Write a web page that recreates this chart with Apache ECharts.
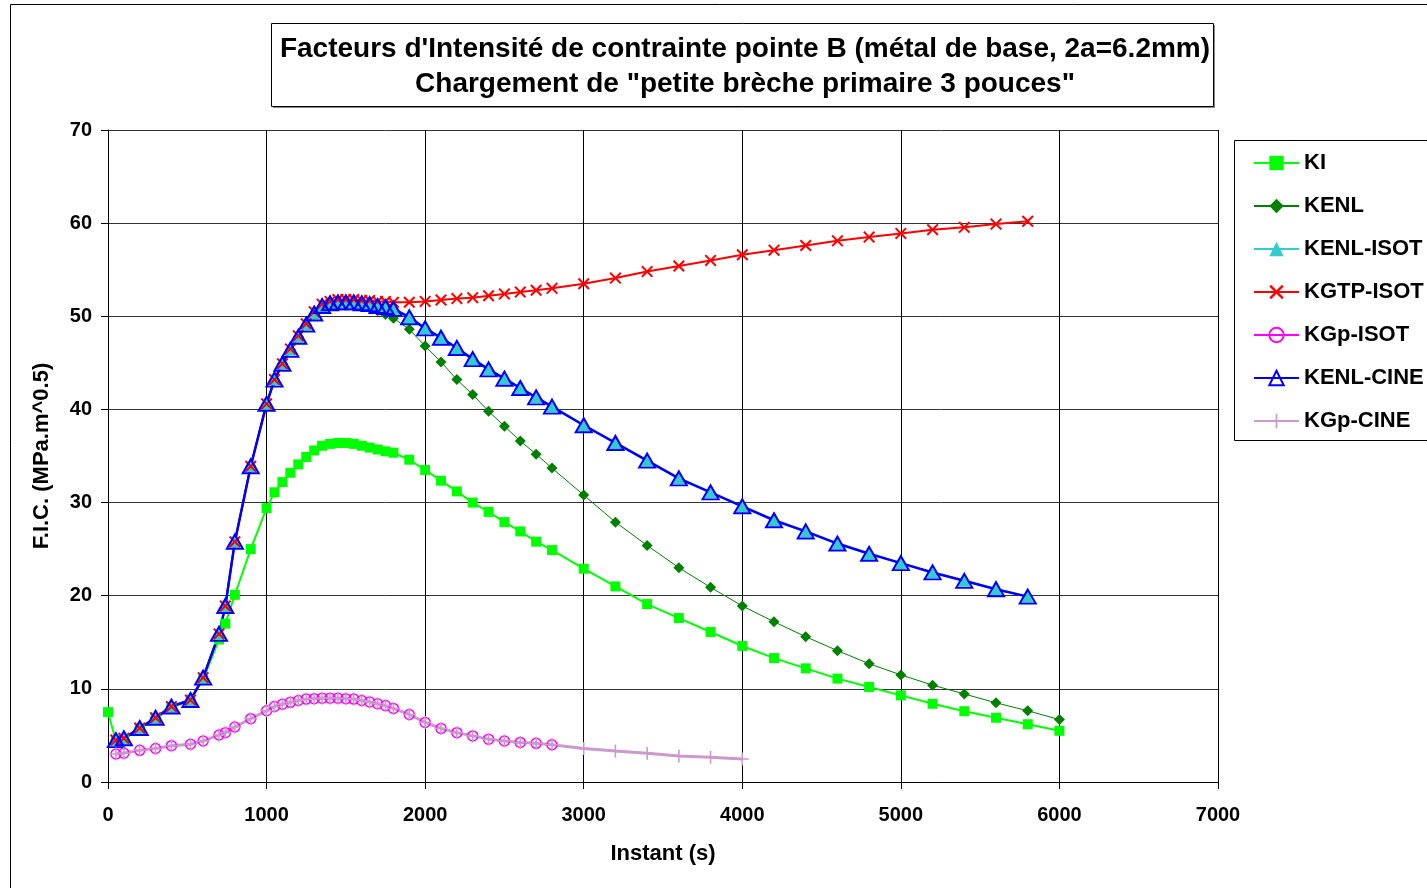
<!DOCTYPE html>
<html>
<head>
<meta charset="utf-8">
<script src="https://cdn.jsdelivr.net/npm/echarts@6/dist/echarts.min.js"></script>
<style>
html,body{margin:0;padding:0;background:#fff;}
#chart{width:1427px;height:888px;}
</style>
</head>
<body>
<div id="chart"></div>
<script>
// ---- Data ----
const titleLines = ["Facteurs d'Intensité de contrainte pointe B (métal de base, 2a=6.2mm)", 'Chargement de "petite brèche primaire 3 pouces"'];
const xAxisName = 'Instant (s)';
const yAxisName = 'F.I.C. (MPa.m^0.5)';
const seriesNames = ['KI', 'KENL', 'KENL-ISOT', 'KGTP-ISOT', 'KGp-ISOT', 'KENL-CINE', 'KGp-CINE'];

const tKI = [0, 50, 100, 200, 300, 400, 520, 600, 700, 740, 800, 900,
  1000, 1050, 1100, 1150, 1200, 1250, 1300, 1350, 1400, 1450, 1500, 1550, 1600, 1650, 1700, 1750, 1800,
  1900, 2000, 2100, 2200, 2300, 2400, 2500, 2600, 2700, 2800,
  3000, 3200, 3400, 3600, 3800, 4000, 4200, 4400, 4600, 4800, 5000, 5200, 5400, 5600, 5800, 6000];
const vKI = [7.5, 4.4, 4.6, 5.7, 6.8, 8.0, 8.8, 11.0, 15.3, 17.0, 20.1, 25.0,
  29.4, 31.1, 32.2, 33.2, 34.1, 34.9, 35.6, 36.1, 36.3, 36.4, 36.4, 36.3, 36.1, 35.9, 35.7, 35.5, 35.35,
  34.6, 33.5, 32.35, 31.2, 30.0, 29.0, 27.9, 26.9, 25.8, 24.9,
  22.9, 21.0, 19.1, 17.6, 16.1, 14.6, 13.3, 12.2, 11.1, 10.2, 9.3, 8.4, 7.6, 6.9, 6.2, 5.5];

const tKENL = [50, 100, 200, 300, 400, 520, 600, 700, 740, 800, 900,
  1000, 1050, 1100, 1150, 1200, 1250, 1300, 1350, 1400, 1450, 1500, 1550, 1600, 1650, 1700, 1750, 1800,
  1900, 2000, 2100, 2200, 2300, 2400, 2500, 2600, 2700, 2800,
  3000, 3200, 3400, 3600, 3800, 4000, 4200, 4400, 4600, 4800, 5000, 5200, 5400, 5600, 5800, 6000];
const vKENL = [4.5, 4.6, 5.8, 6.9, 8.1, 8.8, 11.1, 15.8, 18.8, 25.6, 33.9,
  40.5, 43.1, 44.9, 46.4, 47.8, 49.1, 50.2, 50.9, 51.2, 51.3, 51.3, 51.2, 51.1, 50.9, 50.6, 50.2, 49.8,
  48.6, 46.8, 45.1, 43.2, 41.6, 39.8, 38.2, 36.6, 35.2, 33.7,
  30.8, 27.9, 25.4, 23.0, 20.9, 18.9, 17.2, 15.6, 14.1, 12.7, 11.5, 10.4, 9.45, 8.5, 7.65, 6.7];

const tIsotCine = [50, 100, 200, 300, 400, 520, 600, 700, 740, 800, 900,
  1000, 1050, 1100, 1150, 1200, 1250, 1300, 1350, 1400, 1450, 1500, 1550, 1600, 1650, 1700, 1750, 1800,
  1900, 2000, 2100, 2200, 2300, 2400, 2500, 2600, 2700, 2800,
  3000, 3200, 3400, 3600, 3800, 4000, 4200, 4400, 4600, 4800, 5000, 5200, 5400, 5600, 5800];
const vKENLIsot = [4.5, 4.7, 5.8, 6.9, 8.1, 8.8, 11.2, 15.9, 18.9, 25.8, 33.9,
  40.6, 43.2, 44.9, 46.4, 47.8, 49.1, 50.3, 51.1, 51.4, 51.5, 51.5, 51.5, 51.4, 51.3, 51.1, 51.0, 50.8,
  49.9, 48.7, 47.7, 46.6, 45.4, 44.3, 43.3, 42.3, 41.3, 40.3,
  38.3, 36.4, 34.5, 32.6, 31.1, 29.6, 28.1, 26.9, 25.6, 24.5, 23.5, 22.5, 21.6, 20.7, 19.9];
const vKGTPIsot = [4.5, 4.7, 5.8, 6.9, 8.1, 8.8, 11.2, 15.9, 18.9, 25.8, 33.9,
  40.6, 43.2, 44.9, 46.5, 47.9, 49.2, 50.5, 51.3, 51.6, 51.8, 51.8, 51.8, 51.7, 51.7, 51.6, 51.6, 51.5,
  51.5, 51.6, 51.75, 51.9, 52.0, 52.2, 52.4, 52.6, 52.8, 53.0,
  53.5, 54.1, 54.8, 55.4, 56.0, 56.6, 57.1, 57.6, 58.1, 58.5, 58.9, 59.3, 59.55, 59.9, 60.2];
const vKENLCine = [4.5, 4.7, 5.8, 6.9, 8.1, 8.8, 11.2, 15.9, 18.9, 25.8, 33.9,
  40.6, 43.2, 44.9, 46.4, 47.8, 49.1, 50.3, 51.1, 51.4, 51.5, 51.5, 51.5, 51.4, 51.3, 51.1, 51.0, 50.8,
  49.9, 48.7, 47.7, 46.6, 45.4, 44.3, 43.3, 42.3, 41.3, 40.3,
  38.3, 36.4, 34.5, 32.6, 31.1, 29.6, 28.1, 26.9, 25.6, 24.5, 23.5, 22.5, 21.6, 20.7, 19.9];

const tKGpIsot = [50, 100, 200, 300, 400, 520, 600, 700, 740, 800, 900,
  1000, 1050, 1100, 1150, 1200, 1250, 1300, 1350, 1400, 1450, 1500, 1550, 1600, 1650, 1700, 1750, 1800,
  1900, 2000, 2100, 2200, 2300, 2400, 2500, 2600, 2700, 2800];
const vKGpIsot = [3.0, 3.1, 3.4, 3.6, 3.9, 4.05, 4.4, 5.05, 5.3, 5.9, 6.8,
  7.65, 8.1, 8.35, 8.55, 8.75, 8.9, 8.95, 9.0, 9.0, 9.0, 8.95, 8.9, 8.75, 8.6, 8.4, 8.2, 7.9,
  7.25, 6.4, 5.75, 5.3, 4.95, 4.6, 4.4, 4.25, 4.15, 4.0];
const tKGpCine = [50, 100, 200, 300, 400, 520, 600, 700, 740, 800, 900,
  1000, 1050, 1100, 1150, 1200, 1250, 1300, 1350, 1400, 1450, 1500, 1550, 1600, 1650, 1700, 1750, 1800,
  1900, 2000, 2100, 2200, 2300, 2400, 2500, 2600, 2700, 2800,
  3000, 3200, 3400, 3600, 3800, 4000];
const vKGpCine = [3.0, 3.1, 3.4, 3.6, 3.9, 4.05, 4.4, 5.05, 5.3, 5.9, 6.8,
  7.65, 8.1, 8.35, 8.55, 8.75, 8.9, 8.95, 9.0, 9.0, 9.0, 8.95, 8.9, 8.75, 8.6, 8.4, 8.2, 7.9,
  7.25, 6.4, 5.75, 5.3, 4.95, 4.6, 4.4, 4.25, 4.15, 4.0,
  3.6, 3.33, 3.08, 2.8, 2.65, 2.47];

// ---- Chart ----
function zip(xs, ys) { return xs.map((x, i) => [x, ys[i]]); }
const FONT = '"Liberation Sans", Arial, sans-serif';
const crossPath = 'path://M0,1.2L1.2,0L5,3.8L8.8,0L10,1.2L6.2,5L10,8.8L8.8,10L5,6.2L1.2,10L0,8.8L3.8,5Z';
const plusPath = 'path://M4.4,0H5.6V4.4H10V5.6H5.6V10H4.4V5.6H0V4.4H4.4Z';

const chart = echarts.init(document.getElementById('chart'), null, { renderer: 'canvas' });
const option = {
  animation: false,
  backgroundColor: '#ffffff',
  title: {
    text: titleLines.join('\n'),
    left: 740, top: 27, textAlign: 'center',
    textStyle: { fontFamily: FONT, fontWeight: 'bold', fontSize: 28, color: '#000', lineHeight: 35 }
  },
  graphic: [
    { type: 'rect', z: -1, shape: { x: 10.5, y: 4.5, width: 1500, height: 1000 }, style: { fill: '#fff', stroke: '#000', lineWidth: 1 } },
    { type: 'rect', z: 0, shape: { x: 273, y: 25, width: 942, height: 83 }, style: { fill: '#888', stroke: null } },
    { type: 'rect', z: 0, shape: { x: 271.5, y: 23.5, width: 942, height: 83 }, style: { fill: '#fff', stroke: '#000', lineWidth: 1 } },
    { type: 'rect', z: 0, shape: { x: 1234.5, y: 140.5, width: 200, height: 300 }, style: { fill: '#fff', stroke: '#000', lineWidth: 1 } }
  ],
  legend: {
    orient: 'vertical', left: 1253, top: 152, padding: 0,
    itemWidth: 45, itemHeight: 18, itemGap: 21,
    data: seriesNames,
    textStyle: { fontFamily: FONT, fontWeight: 'bold', fontSize: 22, color: '#000' }
  },
  grid: { left: 108, right: 209, top: 130, bottom: 106, containLabel: false },
  xAxis: {
    type: 'value', min: 0, max: 7000, interval: 1000,
    name: xAxisName, nameLocation: 'middle', nameGap: 61,
    nameTextStyle: { fontFamily: FONT, fontWeight: 'bold', fontSize: 22, color: '#000' },
    axisLine: { lineStyle: { color: '#000', width: 1 } },
    axisTick: { show: true, length: 7, lineStyle: { color: '#000' } },
    axisLabel: { margin: 23, fontFamily: FONT, fontWeight: 'bold', fontSize: 20, color: '#000', formatter: v => String(v) },
    splitLine: { show: true, lineStyle: { color: '#000', width: 1 } }
  },
  yAxis: {
    type: 'value', min: 0, max: 70, interval: 10,
    name: yAxisName, nameLocation: 'middle', nameGap: 55,
    nameTextStyle: { fontFamily: FONT, fontWeight: 'bold', fontSize: 22, color: '#000' },
    axisLine: { show: true, lineStyle: { color: '#000', width: 1 } },
    axisTick: { show: true, length: 7, lineStyle: { color: '#000' } },
    axisLabel: { margin: 16, fontFamily: FONT, fontWeight: 'bold', fontSize: 20, color: '#000' },
    splitLine: { show: true, lineStyle: { color: '#333', width: 1 } }
  },
  series: [
    { name: 'KI', type: 'line', data: zip(tKI, vKI), symbol: 'rect', symbolSize: 10,
      lineStyle: { color: '#00FF00', width: 2 }, itemStyle: { color: '#00FF00' } },
    { name: 'KENL', type: 'line', data: zip(tKENL, vKENL), symbol: 'diamond', symbolSize: 11,
      lineStyle: { color: '#008000', width: 1 }, itemStyle: { color: '#008000' } },
    { name: 'KENL-ISOT', type: 'line', data: zip(tIsotCine, vKENLIsot), symbol: 'triangle', symbolSize: 12,
      lineStyle: { color: '#33CCCC', width: 2 }, itemStyle: { color: '#33CCCC' } },
    { name: 'KGTP-ISOT', type: 'line', data: zip(tIsotCine, vKGTPIsot), symbol: crossPath, symbolSize: 12,
      lineStyle: { color: '#FF0000', width: 2 }, itemStyle: { color: '#FF0000' } },
    { name: 'KGp-ISOT', type: 'line', data: zip(tKGpIsot, vKGpIsot), symbol: 'circle', symbolSize: 10,
      lineStyle: { color: '#FF00FF', width: 1.5 }, itemStyle: { color: 'rgba(255,255,255,0)', borderColor: '#FF00FF', borderWidth: 1.5 } },
    { name: 'KENL-CINE', type: 'line', data: zip(tIsotCine, vKENLCine), symbol: 'triangle', symbolSize: [16, 14],
      lineStyle: { color: '#0000FF', width: 2.5 }, itemStyle: { color: 'rgba(255,255,255,0)', borderColor: '#0000FF', borderWidth: 2 } },
    { name: 'KGp-CINE', type: 'line', data: zip(tKGpCine, vKGpCine), symbol: plusPath, symbolSize: 13,
      lineStyle: { color: '#CC99CC', width: 3 }, itemStyle: { color: '#CC99CC' } }
  ]
};
chart.setOption(option);
</script>
</body>
</html>
